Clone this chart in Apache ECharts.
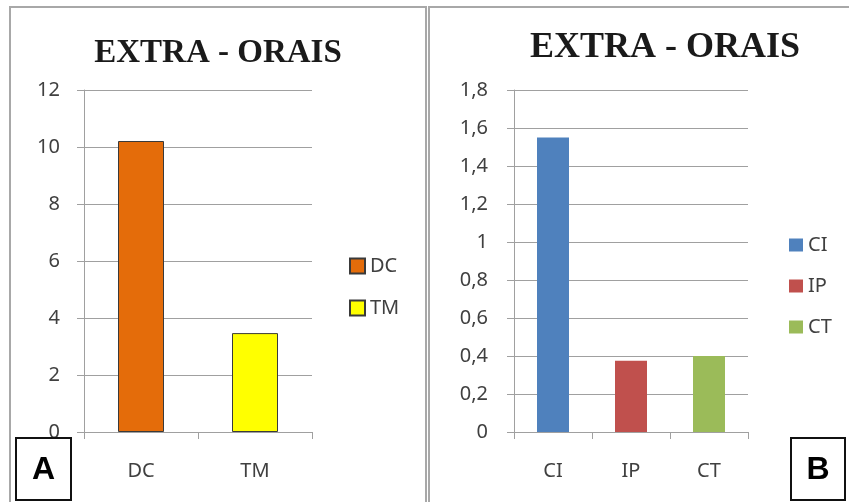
<!DOCTYPE html>
<html>
<head>
<meta charset="utf-8">
<script src="https://cdn.jsdelivr.net/npm/echarts@6/dist/echarts.min.js"></script>
<style>
html,body{margin:0;padding:0;background:#fff;}
#c{width:849px;height:502px;}
</style>
</head>
<body>
<div id="c"></div>
<script>
// Panel A
const catsA = ['DC', 'TM'];
const valsA = [10.21, 3.47];
const colorsA = ['#E46C0A', '#FFFF00'];
const ticksA = { min: 0, max: 12, interval: 2 };
// Panel B
const catsB = ['CI', 'IP', 'CT'];
const valsB = [1.55, 0.375, 0.40];
const colorsB = ['#4F81BD', '#C0504D', '#9BBB59'];
const ticksB = { min: 0, max: 1.8, interval: 0.2 };
const titleText = 'EXTRA - ORAIS';

const chart = echarts.init(document.getElementById('c'), null, { renderer: 'canvas' });

const labelFont = { fontFamily: 'Noto Sans', fontSize: 20, color: '#404040' };
const lineGray = '#a0a0a0';

function oneHot(cats, vals, i) {
  return cats.map((c, j) => (j === i ? vals[i] : null));
}

const series = [];
catsA.forEach((c, i) => {
  series.push({
    name: c, type: 'bar', xAxisIndex: 0, yAxisIndex: 0,
    data: oneHot(catsA, valsA, i),
    barWidth: 46, barGap: '-100%',
    itemStyle: { color: colorsA[i], borderColor: '#3a3a3a', borderWidth: 1 },
    emphasis: { disabled: true }
  });
});
catsB.forEach((c, i) => {
  series.push({
    name: c, type: 'bar', xAxisIndex: 1, yAxisIndex: 1,
    data: oneHot(catsB, valsB, i),
    barWidth: 32, barGap: '-100%',
    itemStyle: { color: colorsB[i] },
    emphasis: { disabled: true }
  });
});

function xAxis(cats, gridIndex) {
  return {
    type: 'category', data: cats, gridIndex,
    axisLine: { lineStyle: { color: lineGray, width: 1 } },
    axisTick: { show: true, length: 7, lineStyle: { color: lineGray } },
    axisLabel: Object.assign({ margin: 29 }, labelFont)
  };
}
function yAxis(t, gridIndex, margin, fmt) {
  return Object.assign({
    type: 'value', gridIndex,
    axisLine: { show: true, lineStyle: { color: lineGray, width: 1 } },
    axisTick: { show: true, length: 7, lineStyle: { color: lineGray } },
    splitLine: { show: true, lineStyle: { color: lineGray, width: 1 } },
    axisLabel: Object.assign({ margin, formatter: fmt }, labelFont)
  }, t);
}

chart.setOption({
  animation: false,
  backgroundColor: '#fff',
  grid: [
    { left: 84, right: 849 - 312, top: 90, bottom: 502 - 432 },
    { left: 514, right: 849 - 748, top: 90, bottom: 502 - 432 }
  ],
  xAxis: [xAxis(catsA, 0), xAxis(catsB, 1)],
  yAxis: [
    yAxis(ticksA, 0, 24, v => String(v)),
    yAxis(ticksB, 1, 26, v => String(+(+v).toFixed(1)).replace('.', ','))
  ],
  legend: [
    {
      data: catsA, orient: 'vertical', left: 349, top: 256, padding: 0,
      itemWidth: 15, itemHeight: 15, itemGap: 22, icon: 'rect',
      textStyle: Object.assign({}, labelFont),
      selectedMode: false
    },
    {
      data: catsB, orient: 'vertical', left: 789, top: 235, padding: 0,
      itemWidth: 14, itemHeight: 13, itemGap: 21, icon: 'rect', itemTextGap: 7,
      textStyle: Object.assign({}, labelFont),
      selectedMode: false
    }
  ],
  series,
  graphic: [
    // panel borders
    { type: 'rect', shape: { x: 10, y: 7, width: 416, height: 500 }, style: { fill: null, stroke: '#a8a8a8', lineWidth: 2 }, z: -1 },
    { type: 'rect', shape: { x: 429, y: 7, width: 430, height: 500 }, style: { fill: null, stroke: '#a8a8a8', lineWidth: 2 }, z: -1 },
    // titles
    { type: 'text', x: 218, y: 53, style: { text: titleText, font: 'bold 33px "Liberation Serif"', fill: '#1a1a1a', align: 'center', verticalAlign: 'middle' } },
    { type: 'text', x: 665, y: 48, style: { text: titleText, font: 'bold 36px "Liberation Serif"', fill: '#1a1a1a', align: 'center', verticalAlign: 'middle' } },
    // letter boxes
    { type: 'rect', shape: { x: 16, y: 438, width: 55, height: 62 }, style: { fill: '#fff', stroke: '#111', lineWidth: 2 }, z: 10 },
    { type: 'text', x: 43.5, y: 470, style: { text: 'A', font: 'bold 32px "Liberation Sans"', fill: '#000', align: 'center', verticalAlign: 'middle' }, z: 11 },
    { type: 'rect', shape: { x: 791, y: 438, width: 54, height: 62 }, style: { fill: '#fff', stroke: '#111', lineWidth: 2 }, z: 10 },
    { type: 'text', x: 818, y: 470, style: { text: 'B', font: 'bold 32px "Liberation Sans"', fill: '#000', align: 'center', verticalAlign: 'middle' }, z: 11 }
  ]
});
</script>
</body>
</html>
